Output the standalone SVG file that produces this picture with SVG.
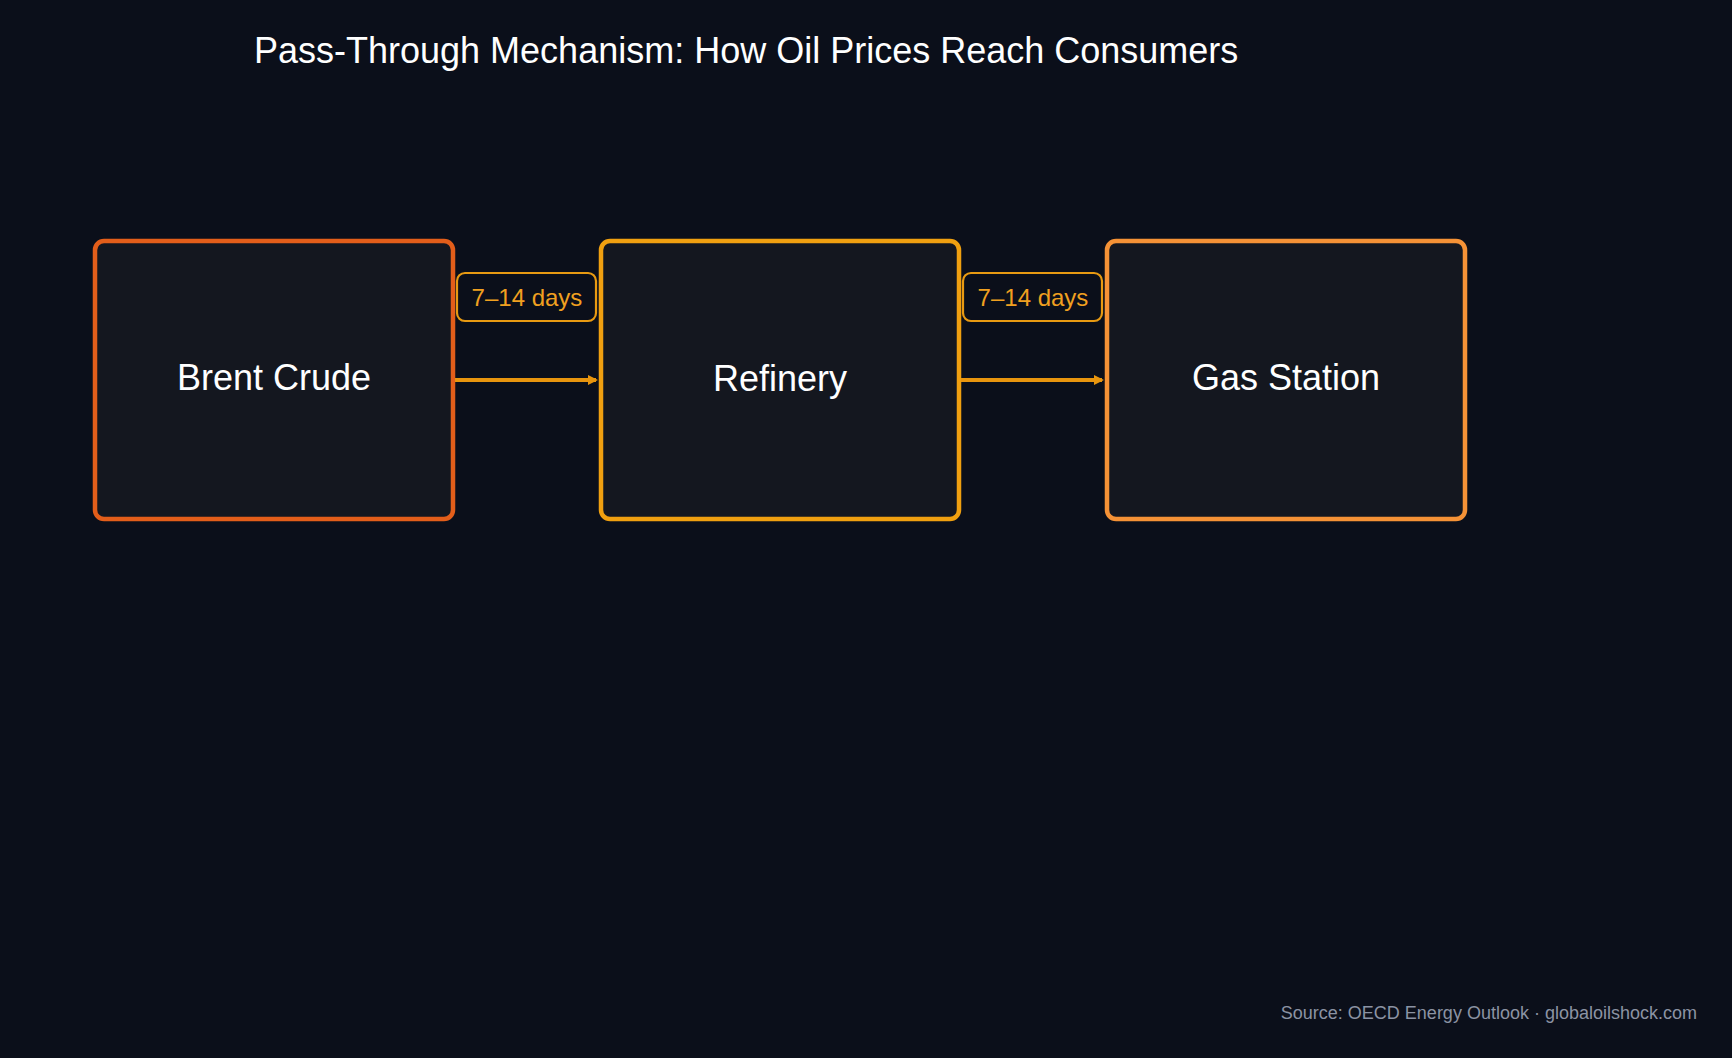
<svg xmlns="http://www.w3.org/2000/svg" width="1732" height="1058" viewBox="0 0 1732 1058">
<style>
text{font-family:"Liberation Sans",Arial,sans-serif}
.node{fill:#14171f;stroke-width:4.5}
.nt{fill:#ffffff;font-size:36px;text-anchor:middle;dominant-baseline:central}
.lb{fill:#0b0f1a;stroke:#e89a12;stroke-width:2.2}
.lt{fill:#f0a020;font-size:24px;text-anchor:middle;dominant-baseline:central}
.ed{stroke:#e8950e;stroke-width:4;fill:none;marker-end:url(#ah)}
</style>
<defs><marker id="ah" markerWidth="10" markerHeight="10" refX="8" refY="5" orient="auto" markerUnits="userSpaceOnUse"><path d="M0,0 L10,5 L0,10 z" fill="#e8950e"/></marker></defs>
<rect width="1732" height="1058" fill="#0b0f1a"/>
<text x="254" y="63" fill="#ffffff" font-size="36">Pass-Through Mechanism: How Oil Prices Reach Consumers</text>
<g id="brent"><rect class="node" x="95" y="241" width="358" height="278" rx="9" stroke="#e35e1a"/><text class="nt" x="274" y="377">Brent Crude</text></g>
<g id="refinery"><rect class="node" x="601" y="241" width="358" height="278" rx="9" stroke="#f0a010"/><text class="nt" x="780" y="378">Refinery</text></g>
<g id="gas"><rect class="node" x="1107" y="241" width="358" height="278" rx="9" stroke="#f59236"/><text class="nt" x="1286" y="377">Gas Station</text></g>
<g id="connectors">
<path class="ed" d="M455,380 H596"/>
<path class="ed" d="M961,380 H1102"/>
<rect class="lb" x="457" y="273" width="139" height="48" rx="8"/><text class="lt" x="527" y="297">7–14 days</text>
<rect class="lb" x="963" y="273" width="139" height="48" rx="8"/><text class="lt" x="1033" y="297">7–14 days</text>
</g>
<text x="1697" y="1019" fill="#8b93a3" font-size="18" text-anchor="end">Source: OECD Energy Outlook · globaloilshock.com</text>
</svg>
